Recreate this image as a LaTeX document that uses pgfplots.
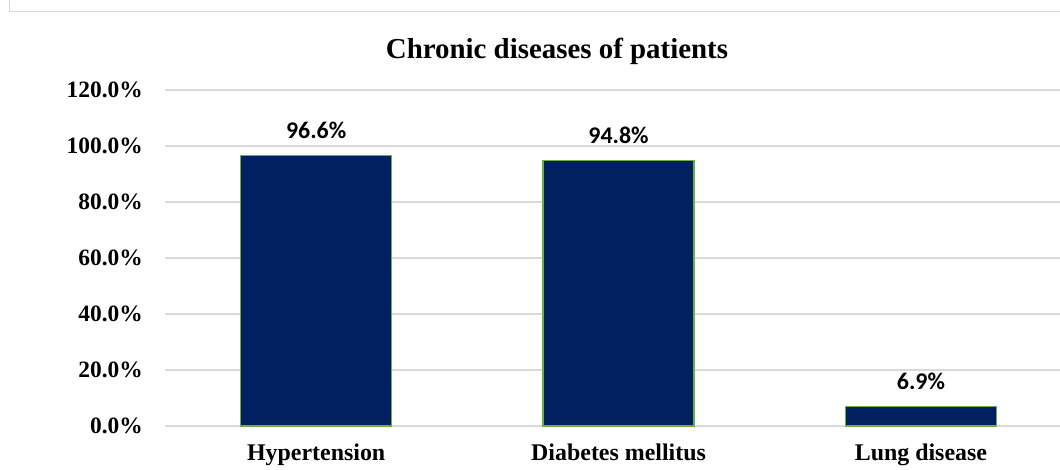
\documentclass[border=0pt]{standalone}
\usepackage{fontspec}
\setmainfont{Liberation Serif}
\newfontfamily\calibri{Carlito}
\usepackage{pgfplots}
\pgfplotsset{compat=1.18}
\definecolor{barblue}{HTML}{002060}
\definecolor{bargreen}{HTML}{70AD47}
\definecolor{gridgray}{HTML}{D9D9D9}
\begin{document}
\begin{tikzpicture}[x=1bp,y=1bp]
\useasboundingbox (0,0) rectangle (1060,470);
\draw[gridgray, line width=1.5bp] (9.5,480) -- (9.5,458.5) -- (1080,458.5);
\node[anchor=base, font=\fontsize{29}{29}\selectfont\bfseries, inner sep=0pt] at (557,411) {Chronic diseases of patients};
\begin{axis}[
  at={(165bp,44bp)}, anchor=south west,
  scale only axis, width=895bp, height=336bp,
  xmin=-0.5, xmax=2.46, ymin=0, ymax=120,
  clip=false,
  ybar, bar width=151bp,
  xtick=data, xticklabels={Hypertension, Diabetes mellitus, Lung disease},
  ytick={0,20,...,120},
  yticklabel={\pgfmathprintnumber[assume math mode=true,fixed,fixed zerofill,precision=1]{\tick}\%},
  axis line style={draw=none},
  major tick length=0pt,
  ymajorgrids, major grid style={gridgray, line width=1.5bp},
  yticklabel style={font=\fontsize{23.5}{23.5}\selectfont\bfseries, inner sep=0pt, anchor=east, xshift=-22bp},
  xticklabel style={font=\fontsize{24}{24}\selectfont\bfseries, inner sep=0pt, anchor=base, yshift=-35bp},
  nodes near coords={\pgfmathprintnumber[assume math mode=true,fixed,fixed zerofill,precision=1]{\pgfplotspointmeta}\%},
  every node near coord/.append style={font=\fontsize{24}{24}\selectfont\calibri\bfseries, anchor=base, inner sep=0pt, yshift=17bp},
]
\addplot[fill=barblue, draw=bargreen, line width=1.5bp] coordinates {(0,96.6) (1,94.8) (2,6.9)};
\end{axis}
\end{tikzpicture}
\end{document}
